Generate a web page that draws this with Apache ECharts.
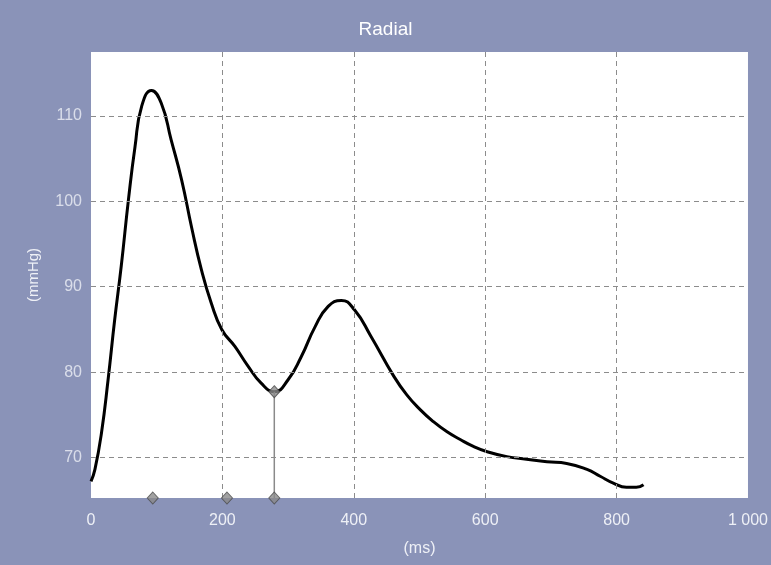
<!DOCTYPE html>
<html>
<head>
<meta charset="utf-8">
<script src="https://cdn.jsdelivr.net/npm/echarts@6/dist/echarts.min.js"></script>
<style>
html,body{margin:0;padding:0;background:#8a93b8;}
#chart{width:771px;height:565px;}
</style>
</head>
<body>
<div id="chart"></div>
<script>
// Pressure waveform (time in ms, pressure in mmHg)
var timeMs   = [0, 6, 16, 26, 36, 46, 57, 67, 77, 92, 107, 122, 138, 153, 168, 183, 199, 219, 239, 259, 279, 300, 320, 341, 361, 381, 401, 426, 461, 481, 501, 521, 542, 562, 582, 602, 633, 663, 694, 724, 755, 775, 795, 815, 830, 841];
var pressure = [67.2, 68.6, 72.9, 79.1, 86.1, 92.4, 100.2, 106.4, 111.1, 113.0, 111.5, 107.2, 102.5, 97.0, 92.0, 88.1, 85.0, 83.0, 80.7, 78.7, 77.7, 79.1, 81.8, 85.3, 87.7, 88.4, 87.3, 84.2, 79.5, 77.3, 75.6, 74.2, 73.0, 72.1, 71.3, 70.7, 70.1, 69.8, 69.5, 69.3, 68.6, 67.8, 67.0, 66.5, 66.5, 66.8];
// Event markers on the time axis
var markerMs = [94, 207, 279];
// Vertical marker line (time, pressure at top)
var dropMs = 279;
var dropValue = 77.7;
// Axis settings
var xMin = 0, xMax = 1000, xStep = 200;
var xGrid = [200, 400, 600, 800];
var yMin = 65.25, yMax = 117.5;
var yTicks = [70, 80, 90, 100, 110];

var curve = timeMs.map(function (t, i) { return [t, pressure[i]]; });
var markPts = markerMs.map(function (t) { return [t, yMin]; });
markPts.push([dropMs, dropValue]);

var chart = echarts.init(document.getElementById('chart'));
var labelColor = '#eef0f6';
var font = 'Liberation Sans';
var gridLine = { color: '#8c8c8c', width: 1, type: [5, 4] };

chart.setOption({
  backgroundColor: '#8a93b8',
  animation: false,
  title: {
    text: 'Radial', left: 'center', top: 15,
    textStyle: { color: '#ffffff', fontFamily: font, fontSize: 19, fontWeight: 'normal' }
  },
  grid: { left: 91, right: 22, top: 52, bottom: 67, show: true, backgroundColor: '#ffffff', borderWidth: 0 },
  xAxis: {
    type: 'value', min: xMin, max: xMax, interval: xStep,
    name: '(ms)', nameLocation: 'middle', nameGap: 43,
    nameTextStyle: { color: labelColor, fontFamily: font, fontSize: 16 },
    axisLine: { show: false },
    axisTick: { show: false },
    axisLabel: {
      color: labelColor, fontFamily: font, fontSize: 16, margin: 15,
      formatter: function (v) { return v >= 1000 ? '1 000' : String(v); }
    },
    splitLine: { show: false }
  },
  yAxis: {
    type: 'value', min: yMin, max: yMax,
    name: '(mmHg)', nameLocation: 'middle', nameGap: 50,
    nameTextStyle: { color: labelColor, fontFamily: font, fontSize: 15 },
    axisLine: { show: false },
    axisTick: { show: false },
    axisLabel: { show: false },
    splitLine: { show: false }
  },
  series: [
    {
      type: 'line', data: curve, smooth: 0.5, symbol: 'none',
      lineStyle: { color: '#000000', width: 3 },
      z: 3,
      markLine: {
        silent: true, symbol: 'none', animation: false,
        lineStyle: gridLine,
        label: { show: false },
        data: xGrid.map(function (v) { return { xAxis: v }; })
          .concat(yTicks.map(function (v) { return { yAxis: v }; }))
      }
    },
    {
      type: 'line', data: [[dropMs, yMin], [dropMs, dropValue]], symbol: 'none',
      lineStyle: { color: '#8a8a8a', width: 1.5 }, z: 4
    },
    {
      type: 'scatter', data: markPts, symbol: 'diamond', symbolSize: [11, 12], clip: false,
      itemStyle: { color: '#8a8a8a', borderColor: '#4a4a4a', borderWidth: 1 }, z: 5
    },
    {
      // y-axis tick labels
      type: 'scatter', data: yTicks.map(function (v) { return [xMin, v]; }), symbolSize: 0, clip: false,
      silent: true,
      label: {
        show: true, position: 'left', distance: 9, color: labelColor,
        fontFamily: font, fontSize: 16,
        formatter: function (p) { return String(p.value[1]); }
      }
    }
  ]
});
</script>
</body>
</html>
